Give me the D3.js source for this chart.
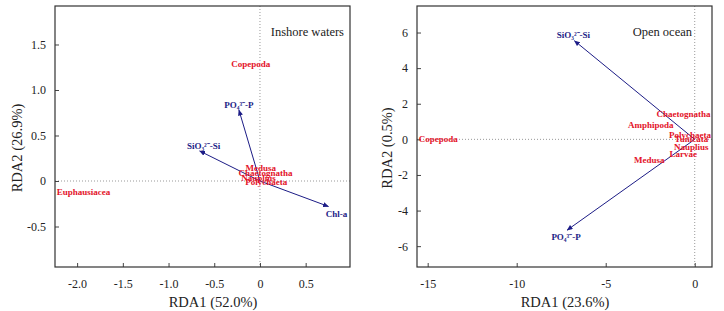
<!DOCTYPE html>
<html>
<head>
<meta charset="utf-8">
<script src="https://cdn.jsdelivr.net/npm/d3@7"></script>
<style>
  body { margin: 0; background: #fff; }
  svg text { font-family: "Liberation Serif", "Times New Roman", serif; }
</style>
</head>
<body>
<svg id="chart" width="724" height="311"></svg>
<script>
// ---- data ----
// inshore waters
const inEnvNames = ["PO₄³⁻-P", "SiO₃²⁻-Si", "Chl-a"];
const inEnvX = [-0.23, -0.66, 0.75];
const inEnvY = [0.78, 0.33, -0.28];
const inSpNames = ["Copepoda", "Euphausiacea", "Medusa", "Chaetognatha", "Nauplius", "Polychaeta"];
const inSpX = [-0.10, -1.93, 0.01, 0.06, -0.015, 0.07];
const inSpY = [1.29, -0.12, 0.14, 0.09, 0.03, -0.01];
const inXTicks = [-2.0, -1.5, -1.0, -0.5, 0, 0.5];
const inYTicks = [-0.5, 0, 0.5, 1.0, 1.5];

// open ocean
const outEnvNames = ["SiO₃²⁻-Si", "PO₄³⁻-P"];
const outEnvX = [-6.76, -7.17];
const outEnvY = [5.54, -5.10];
const outSpNames = ["Chaetognatha", "Amphipoda", "Polychaeta", "Tunicata", "Nauplius", "Larvae", "Medusa", "Copepoda"];
const outSpX = [-0.63, -2.47, -0.26, -0.19, -0.20, -0.65, -2.56, -14.4];
const outSpY = [1.42, 0.80, 0.26, 0.0, -0.42, -0.84, -1.16, 0.0];
const outXTicks = [-15, -10, -5, 0];
const outYTicks = [-6, -4, -2, 0, 2, 4, 6];

const navy = "#1c1c86", red = "#e3132a";
const serif = "'Liberation Serif', 'Times New Roman', serif";
const svg = d3.select("#chart");

// arrow head marker
svg.append("defs").append("marker")
  .attr("id", "head")
  .attr("viewBox", "0 -3 7 6")
  .attr("refX", 6.5).attr("refY", 0)
  .attr("markerUnits", "userSpaceOnUse")
  .attr("markerWidth", 6).attr("markerHeight", 5)
  .attr("orient", "auto")
  .append("path").attr("d", "M0,-3L7,0L0,3Z").attr("fill", navy);

function panel(o) {
  const x = d3.scaleLinear().domain(o.xDomain).range([o.left, o.right]);
  const y = d3.scaleLinear().domain(o.yDomain).range([o.bottom, o.top]);
  const g = svg.append("g");

  // dotted zero lines
  g.append("line")
    .attr("x1", x(0)).attr("x2", x(0)).attr("y1", o.top).attr("y2", o.bottom)
    .attr("stroke", "#999").attr("stroke-dasharray", "1,2");
  g.append("line")
    .attr("x1", o.left).attr("x2", o.right).attr("y1", y(0)).attr("y2", y(0))
    .attr("stroke", "#999").attr("stroke-dasharray", "1,2");

  // axes, inward ticks; plain hyphen for negatives like the original
  const fmt = d => o.fmt(d).replace("−", "-");
  const xa = g.append("g").attr("transform", `translate(0,${o.bottom})`)
    .call(d3.axisBottom(x).tickValues(o.xTicks).tickSize(-4).tickPadding(12).tickFormat(fmt));
  const ya = g.append("g").attr("transform", `translate(${o.left},0)`)
    .call(d3.axisLeft(y).tickValues(o.yTicks).tickSize(-4).tickPadding(9).tickFormat(fmt));
  [xa, ya].forEach(a => {
    a.attr("font-family", serif);
    a.select(".domain").remove();
    a.selectAll("line").attr("stroke", "#444");
    a.selectAll("text").attr("font-size", 12).attr("fill", "#222");
  });

  // frame
  g.append("rect")
    .attr("x", o.left).attr("y", o.top)
    .attr("width", o.right - o.left).attr("height", o.bottom - o.top)
    .attr("fill", "none").attr("stroke", "#333").attr("stroke-width", 1.2);

  // env arrows
  o.envNames.forEach((n, i) => {
    g.append("line")
      .attr("x1", x(0)).attr("y1", y(0))
      .attr("x2", x(o.envX[i])).attr("y2", y(o.envY[i]))
      .attr("stroke", navy).attr("stroke-width", 1)
      .attr("marker-end", "url(#head)");
    const nudge = o.nudge[n];
    g.append("text")
      .attr("x", x(o.envX[i]) + nudge[0]).attr("y", y(o.envY[i]) + nudge[1])
      .attr("text-anchor", "middle").attr("dominant-baseline", "central")
      .attr("font-size", 9).attr("font-weight", "bold").attr("fill", navy)
      .text(n);
  });

  // species labels
  o.spNames.forEach((n, i) => {
    g.append("text")
      .attr("x", x(o.spX[i])).attr("y", y(o.spY[i]))
      .attr("text-anchor", "middle").attr("dominant-baseline", "central")
      .attr("font-size", 9).attr("font-weight", "bold").attr("fill", red)
      .text(n);
  });

  // titles
  g.append("text").attr("x", o.titleX).attr("y", 36)
    .attr("text-anchor", "end").attr("font-size", 12.5).attr("fill", "#222")
    .text(o.title);
  g.append("text").attr("x", o.xLabelX).attr("y", 307)
    .attr("text-anchor", "middle").attr("font-size", 14.5).attr("fill", "#222")
    .text(o.xLabel);
  g.append("text")
    .attr("transform", `translate(${o.yLabelX},148) rotate(-90)`)
    .attr("text-anchor", "middle").attr("font-size", 14.5).attr("fill", "#222")
    .text(o.yLabel);
}

panel({
  left: 55, right: 350, top: 6, bottom: 267,
  xDomain: [-2.242, 0.985], yDomain: [-0.945, 1.923],
  xTicks: inXTicks, yTicks: inYTicks,
  fmt: d => d === 0 ? "0" : d3.format(".1f")(d),
  envNames: inEnvNames, envX: inEnvX, envY: inEnvY,
  spNames: inSpNames, spX: inSpX, spY: inSpY,
  nudge: { "PO₄³⁻-P": [0, -5], "SiO₃²⁻-Si": [4, -5], "Chl-a": [8, 8] },
  title: "Inshore waters", titleX: 344,
  xLabel: "RDA1 (52.0%)", xLabelX: 213,
  yLabel: "RDA2 (26.9%)", yLabelX: 22
});

panel({
  left: 417, right: 712, top: 6, bottom: 267,
  xDomain: [-15.6, 0.97], yDomain: [-7.17, 7.49],
  xTicks: outXTicks, yTicks: outYTicks,
  fmt: d3.format("d"),
  envNames: outEnvNames, envX: outEnvX, envY: outEnvY,
  spNames: outSpNames, spX: outSpX, spY: outSpY,
  nudge: { "SiO₃²⁻-Si": [-1, -6], "PO₄³⁻-P": [-1, 7] },
  title: "Open ocean", titleX: 692,
  xLabel: "RDA1 (23.6%)", xLabelX: 565,
  yLabel: "RDA2 (0.5%)", yLabelX: 392
});
</script>
</body>
</html>
